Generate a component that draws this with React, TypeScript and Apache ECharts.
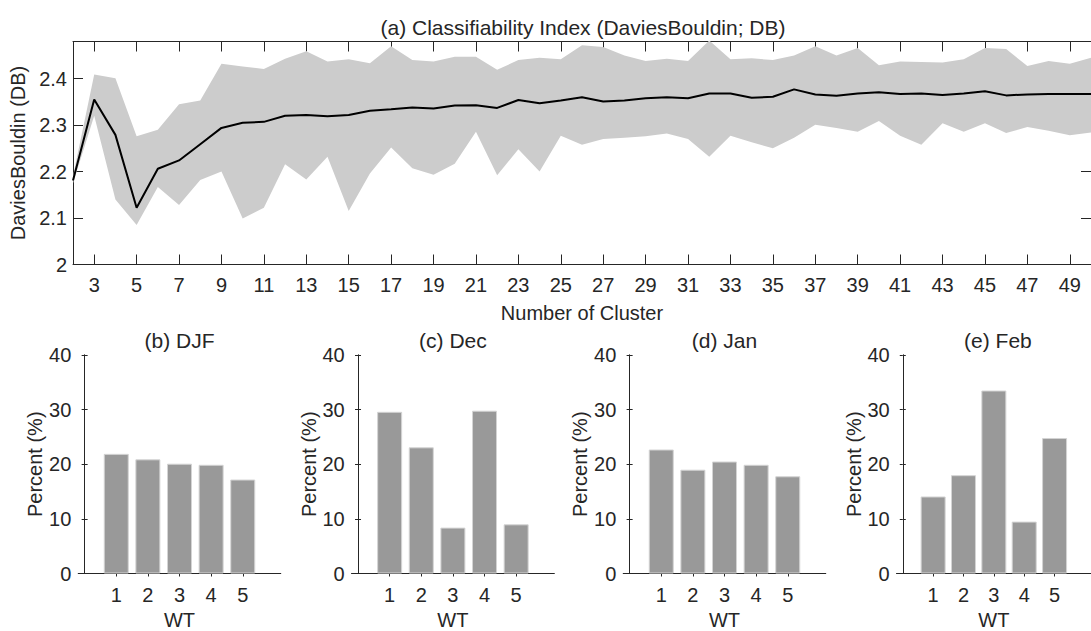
import React, { useEffect, useRef } from "react";
import * as echarts from "echarts";

const clusterNumbers = [
  "2", "3", "4", "5", "6", "7", "8", "9", "10", "11", "12", "13", "14", "15", "16", "17",
  "18", "19", "20", "21", "22", "23", "24", "25", "26", "27", "28", "29", "30", "31", "32", "33",
  "34", "35", "36", "37", "38", "39", "40", "41", "42", "43", "44", "45", "46", "47", "48", "49", "50",
];

const dbMean = [
  2.181, 2.355, 2.279, 2.122, 2.206, 2.224, 2.259, 2.294, 2.305, 2.307, 2.32, 2.322, 2.319, 2.322, 2.331, 2.334,
  2.338, 2.336, 2.342, 2.343, 2.337, 2.354, 2.347, 2.353, 2.36, 2.351, 2.353, 2.358, 2.36, 2.358, 2.368, 2.368,
  2.359, 2.361, 2.377, 2.366, 2.363, 2.368, 2.371, 2.367, 2.368, 2.365, 2.368, 2.373, 2.364, 2.366, 2.367, 2.367, 2.367,
];

const dbUpper = [
  2.19, 2.409, 2.401, 2.276, 2.29, 2.345, 2.353, 2.432, 2.426, 2.421, 2.443, 2.459, 2.437, 2.442, 2.433, 2.47,
  2.44, 2.437, 2.447, 2.447, 2.419, 2.44, 2.445, 2.442, 2.472, 2.468, 2.45, 2.438, 2.443, 2.438, 2.482, 2.442,
  2.444, 2.44, 2.45, 2.47, 2.45, 2.466, 2.429, 2.437, 2.436, 2.435, 2.442, 2.466, 2.464, 2.427, 2.438, 2.432, 2.445,
];

const dbLower = [
  2.175, 2.32, 2.14, 2.085, 2.167, 2.128, 2.182, 2.2, 2.099, 2.122, 2.216, 2.183, 2.232, 2.115, 2.196, 2.252,
  2.207, 2.193, 2.217, 2.286, 2.192, 2.248, 2.2, 2.277, 2.258, 2.27, 2.273, 2.276, 2.282, 2.27, 2.232, 2.277,
  2.263, 2.25, 2.273, 2.301, 2.294, 2.286, 2.309, 2.277, 2.258, 2.304, 2.286, 2.304, 2.283, 2.296, 2.288, 2.278, 2.284,
];

const weatherTypes = [1, 2, 3, 4, 5];
const panelTitles = ["(b) DJF", "(c) Dec", "(d) Jan", "(e) Feb"];
const pctDJF = [21.9, 20.9, 20.1, 19.9, 17.2];
const pctDec = [29.6, 23.1, 8.4, 29.8, 9.0];
const pctJan = [22.7, 19.0, 20.5, 19.9, 17.8];
const pctFeb = [14.1, 18.0, 33.5, 9.5, 24.8];
const panelValues = [pctDJF, pctDec, pctJan, pctFeb];

const FONT = "'Liberation Sans', Arial, Helvetica, sans-serif";
const INK = "#262626";

export default function App() {
  const ref = useRef<HTMLDivElement>(null);

  useEffect(() => {
    if (!ref.current) return;
    const chart = echarts.init(ref.current, null, { renderer: "svg" });

    const oddOnly = (_i: number, v: string) => Number(v) % 2 === 1;
    const lineStyle = { color: INK, width: 1 };
    const labelStyle = { color: INK, fontSize: 20, fontFamily: FONT };

    const topLeft = 73;
    const topTop = 41.5;
    const topW = 1026;
    const topH = 223;

    const panelLefts = [78.3, 351.7, 623.3, 896.7];
    const panelTop = 355;
    const panelW = 202.4;
    const panelH = 218.5;

    const grids: any[] = [{ left: topLeft, top: topTop, width: topW, height: topH }];
    panelLefts.forEach((l) => grids.push({ left: l, top: panelTop, width: panelW, height: panelH }));

    const xAxes: any[] = [
      {
        type: "category",
        gridIndex: 0,
        data: clusterNumbers,
        boundaryGap: false,
        axisLine: { lineStyle },
        axisTick: { inside: true, length: 10, interval: oddOnly, lineStyle },
        axisLabel: { ...labelStyle, interval: oddOnly, margin: 10 },
        splitLine: { show: false },
        name: "Number of Cluster",
        nameLocation: "middle",
        nameGap: 38,
        nameTextStyle: { ...labelStyle, fontSize: 20 },
      },
      {
        type: "category",
        gridIndex: 0,
        position: "top",
        data: clusterNumbers,
        boundaryGap: false,
        axisLine: { lineStyle },
        axisTick: { inside: true, length: 10, interval: oddOnly, lineStyle },
        axisLabel: { show: false },
        splitLine: { show: false },
      },
    ];
    const yAxes: any[] = [
      {
        type: "value",
        gridIndex: 0,
        min: 2,
        max: 2.48,
        interval: 0.1,
        axisLine: { show: true, lineStyle },
        axisTick: { show: true, inside: true, length: 10, lineStyle },
        axisLabel: { ...labelStyle, margin: 6, showMaxLabel: false },
        splitLine: { show: false },
        name: "DaviesBouldin (DB)",
        nameLocation: "middle",
        nameGap: 38,
        nameTextStyle: { ...labelStyle, fontSize: 20 },
      },
      {
        type: "value",
        gridIndex: 0,
        position: "right",
        min: 2,
        max: 2.48,
        interval: 0.1,
        axisLine: { show: true, lineStyle },
        axisTick: { show: true, inside: true, length: 10, lineStyle },
        axisLabel: { show: false },
        splitLine: { show: false },
      },
    ];

    panelLefts.forEach((_l, i) => {
      const g = i + 1;
      xAxes.push(
        {
          type: "value",
          gridIndex: g,
          min: -0.2,
          max: 6.2,
          axisLine: { lineStyle },
          axisTick: { show: true, inside: true, length: 3, lineStyle, customValues: weatherTypes },
          axisLabel: { ...labelStyle, margin: 11, customValues: weatherTypes },
          splitLine: { show: false },
          name: "WT",
          nameLocation: "middle",
          nameGap: 36,
          nameTextStyle: { ...labelStyle },
        },
        {
          type: "value",
          gridIndex: g,
          position: "top",
          min: -0.2,
          max: 6.2,
          axisLine: { lineStyle },
          axisTick: { show: true, inside: true, length: 3, lineStyle, customValues: weatherTypes },
          axisLabel: { show: false },
          splitLine: { show: false },
        }
      );
      yAxes.push(
        {
          type: "value",
          gridIndex: g,
          min: 0,
          max: 40,
          interval: 10,
          axisLine: { show: true, lineStyle },
          axisTick: { show: true, inside: true, length: 3, lineStyle },
          axisLabel: { ...labelStyle, margin: 7 },
          splitLine: { show: false },
          name: "Percent (%)",
          nameLocation: "middle",
          nameGap: 33,
          nameTextStyle: { ...labelStyle },
        },
        {
          type: "value",
          gridIndex: g,
          position: "right",
          min: 0,
          max: 40,
          interval: 10,
          axisLine: { show: true, lineStyle },
          axisTick: { show: true, inside: true, length: 3, lineStyle },
          axisLabel: { show: false },
          splitLine: { show: false },
        }
      );
    });

    const bandWidth = dbUpper.map((u, i) => +(u - dbLower[i]).toFixed(4));

    const series: any[] = [
      {
        type: "line",
        xAxisIndex: 0,
        yAxisIndex: 0,
        data: dbLower,
        stack: "band",
        symbol: "none",
        lineStyle: { opacity: 0 },
        silent: true,
        z: 1,
      },
      {
        type: "line",
        xAxisIndex: 0,
        yAxisIndex: 0,
        data: bandWidth,
        stack: "band",
        symbol: "none",
        lineStyle: { opacity: 0 },
        areaStyle: { color: "#cccccc", opacity: 1 },
        silent: true,
        z: 1,
      },
      {
        type: "line",
        xAxisIndex: 0,
        yAxisIndex: 0,
        data: dbMean,
        symbol: "none",
        lineStyle: { color: "#000000", width: 2 },
        z: 3,
      },
    ];

    panelValues.forEach((vals, i) => {
      series.push({
        type: "bar",
        xAxisIndex: 2 + i * 2,
        yAxisIndex: 2 + i * 2,
        data: vals.map((v, k) => [weatherTypes[k], v]),
        barWidth: 25,
        itemStyle: { color: "#999999", borderColor: "#d4d4d4", borderWidth: 1 },
      });
    });

    const graphics: any[] = [
      {
        type: "text",
        x: 583,
        y: 27,
        style: {
          text: "(a) Classifiability Index (DaviesBouldin; DB)",
          fill: INK,
          font: `21px ${FONT}`,
          align: "center",
          verticalAlign: "middle",
        },
      },
    ];
    panelTitles.forEach((t, i) => {
      graphics.push({
        type: "text",
        x: panelLefts[i] + panelW / 2,
        y: 340,
        style: { text: t, fill: INK, font: `21px ${FONT}`, align: "center", verticalAlign: "middle" },
      });
    });

    chart.setOption({
      animation: false,
      backgroundColor: "#ffffff",
      textStyle: { fontFamily: FONT },
      grid: grids,
      xAxis: xAxes,
      yAxis: yAxes,
      series,
      graphic: graphics,
    });

    return () => chart.dispose();
  }, []);

  return (
    <div
      ref={ref}
      style={{ position: "absolute", left: 0, top: 0, width: 1091, height: 631, overflow: "hidden" }}
    />
  );
}
